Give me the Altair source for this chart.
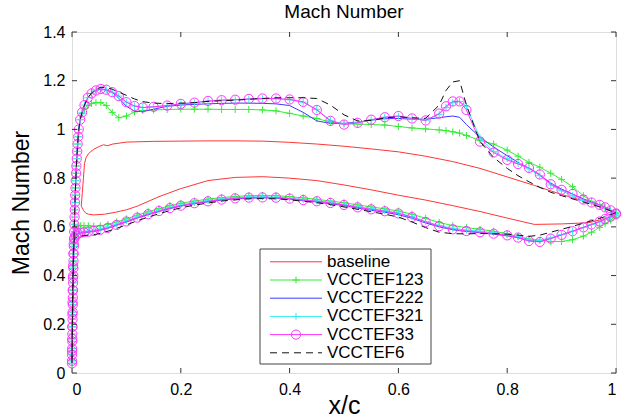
import altair as alt
import pandas as pd

# ---------------- data ----------------
SERIES = ["baseline", "VCCTEF123", "VCCTEF222", "VCCTEF321", "VCCTEF33", "VCCTEF6"]
COLORS = ["#ff3535", "#33ee33", "#3a3aff", "#33eef0", "#ff33ff", "#111111"]

X_TICKS = [0, 0.2, 0.4, 0.6, 0.8, 1]
Y_TICKS = [0, 0.2, 0.4, 0.6, 0.8, 1, 1.2, 1.4]

# leading-edge (stagnation) column, identical for all flap configurations
UPPER_LE_X = [0.0, 0.00015, 0.0003, 0.00045, 0.0006, 0.0008, 0.001, 0.0012, 0.0014, 0.0016,
              0.0018, 0.002, 0.0023, 0.0025, 0.0028, 0.0031, 0.0034, 0.0037, 0.004, 0.00435,
              0.0047, 0.0051, 0.0055, 0.0059, 0.0064, 0.0069, 0.0075, 0.0081, 0.0088, 0.0096,
              0.0104, 0.0114, 0.0125]
UPPER_LE_M = [0.05, 0.075, 0.10, 0.13, 0.16, 0.19, 0.22, 0.25, 0.28, 0.31,
              0.34, 0.37, 0.40, 0.43, 0.46, 0.49, 0.52, 0.55, 0.58, 0.61,
              0.64, 0.67, 0.70, 0.73, 0.76, 0.79, 0.82, 0.85, 0.88, 0.91,
              0.94, 0.97, 1.00]
LOWER_LE_X = [0.0, 0.0002, 0.0004, 0.0006, 0.0008, 0.001, 0.0013, 0.0016, 0.002, 0.0025, 0.0032]
LOWER_LE_M = [0.04, 0.09, 0.14, 0.19, 0.24, 0.29, 0.34, 0.39, 0.44, 0.49, 0.53]

# rest of each surface (leading edge -> trailing edge)
UPPER_X = [0.015, 0.0185, 0.023, 0.029, 0.036, 0.044, 0.053, 0.063, 0.074, 0.086,
           0.1, 0.115, 0.13, 0.15, 0.175, 0.2,
           0.225, 0.25, 0.275, 0.3, 0.325, 0.35, 0.375, 0.4, 0.425, 0.45,
           0.475, 0.5, 0.525, 0.55, 0.575, 0.6, 0.625, 0.65, 0.675, 0.6875,
           0.7, 0.7125, 0.725, 0.75, 0.775, 0.8,
           0.82, 0.84, 0.86, 0.88, 0.9, 0.92, 0.94, 0.955, 0.97, 0.98, 0.99, 1.0]
LOWER_X = [0.0045, 0.007, 0.011, 0.016, 0.022, 0.03, 0.04, 0.052, 0.066,
           0.082, 0.1, 0.12, 0.14, 0.16, 0.18, 0.2,
           0.225, 0.25, 0.275, 0.3, 0.325, 0.35, 0.375, 0.4, 0.425, 0.45, 0.475, 0.5,
           0.525, 0.55, 0.575, 0.6, 0.625, 0.65, 0.675, 0.7, 0.725, 0.75, 0.775, 0.8,
           0.82, 0.84, 0.86, 0.88, 0.9, 0.92, 0.94, 0.955, 0.97, 0.98, 0.99, 1.0]

# baseline (no markers) has its own points
BASE_UPPER_X = [0.017, 0.019, 0.021, 0.023, 0.026, 0.03, 0.035, 0.04, 0.05, 0.058,
                0.065, 0.075, 0.1, 0.15, 0.2, 0.25, 0.3, 0.35, 0.4, 0.45,
                0.5, 0.55, 0.6, 0.65, 0.7, 0.75, 0.8, 0.85, 0.9, 0.95, 1.0]
BASE_UPPER_M = [0.685, 0.74, 0.80, 0.86, 0.885, 0.9, 0.91, 0.918, 0.93, 0.937,
                0.933, 0.94, 0.948, 0.951, 0.952, 0.953, 0.953, 0.952, 0.947, 0.94,
                0.931, 0.92, 0.908, 0.89, 0.868, 0.84, 0.805, 0.77, 0.733, 0.70, 0.66]
BASE_LOWER_X = [0.017, 0.019, 0.021, 0.025, 0.03, 0.04, 0.06, 0.08, 0.1, 0.12,
                0.16, 0.2, 0.25, 0.3, 0.35, 0.4, 0.45, 0.5, 0.55, 0.6,
                0.65, 0.7, 0.75, 0.8, 0.85, 0.9, 0.95, 1.0]
BASE_LOWER_M = [0.685, 0.678, 0.668, 0.657, 0.652, 0.649, 0.652, 0.66, 0.67, 0.685,
                0.724, 0.757, 0.79, 0.803, 0.806, 0.80, 0.79, 0.772, 0.752, 0.73,
                0.71, 0.687, 0.663, 0.636, 0.61, 0.612, 0.617, 0.645]

V123_UPPER = [1.04, 1.065, 1.085, 1.098, 1.106, 1.11, 1.11, 1.098, 1.07, 1.048,
              1.055, 1.072, 1.078, 1.08, 1.082, 1.083,
              1.083, 1.083, 1.082, 1.082, 1.082, 1.08, 1.076, 1.066, 1.055, 1.045,
              1.03, 1.024, 1.022, 1.02, 1.018, 1.012, 1.006, 1.002, 0.998, 0.995,
              0.99, 0.985, 0.975, 0.955, 0.94, 0.915,
              0.89, 0.865, 0.845, 0.82, 0.795, 0.765, 0.728, 0.705, 0.69, 0.678, 0.668, 0.66]
V123_LOWER = [0.58, 0.598, 0.604, 0.605, 0.605, 0.604, 0.603, 0.604, 0.61,
              0.62, 0.633, 0.648, 0.662, 0.675, 0.687, 0.697,
              0.706, 0.714, 0.72, 0.725, 0.728, 0.729, 0.728, 0.724, 0.719, 0.713, 0.706, 0.699,
              0.69, 0.682, 0.674, 0.665, 0.652, 0.635, 0.618, 0.605, 0.597, 0.59, 0.582, 0.572,
              0.56, 0.55, 0.545, 0.54, 0.54, 0.547, 0.562, 0.578, 0.598, 0.613, 0.628, 0.645]

V222_UPPER = [1.04, 1.07, 1.10, 1.13, 1.148, 1.16, 1.166, 1.162, 1.152, 1.128,
              1.095, 1.075, 1.073, 1.083, 1.095, 1.10,
              1.103, 1.105, 1.107, 1.108, 1.108, 1.107, 1.105, 1.098, 1.07, 1.035,
              1.025, 1.025, 1.03, 1.038, 1.044, 1.045, 1.042, 1.042, 1.048, 1.052,
              1.055, 1.05, 1.02, 0.968, 0.928, 0.892,
              0.865, 0.84, 0.812, 0.78, 0.755, 0.735, 0.715, 0.702, 0.69, 0.68, 0.668, 0.655]
V222_LOWER = [0.555, 0.563, 0.57, 0.574, 0.576, 0.578, 0.581, 0.586, 0.594,
              0.606, 0.62, 0.636, 0.65, 0.663, 0.675, 0.685,
              0.695, 0.703, 0.71, 0.715, 0.718, 0.719, 0.718, 0.714, 0.708, 0.702, 0.695, 0.687,
              0.677, 0.668, 0.66, 0.65, 0.635, 0.616, 0.6, 0.588, 0.581, 0.576, 0.57, 0.563,
              0.555, 0.543, 0.54, 0.553, 0.567, 0.582, 0.597, 0.609, 0.621, 0.631, 0.641, 0.651]

V321_UPPER = [1.04, 1.07, 1.10, 1.13, 1.148, 1.16, 1.165, 1.162, 1.153, 1.137,
              1.112, 1.096, 1.09, 1.093, 1.098, 1.105,
              1.11, 1.116, 1.12, 1.122, 1.124, 1.126, 1.126, 1.122, 1.112, 1.082,
              1.037, 1.022, 1.028, 1.04, 1.05, 1.054, 1.045, 1.038, 1.062, 1.09,
              1.11, 1.115, 1.095, 0.965, 0.91, 0.88,
              0.86, 0.838, 0.81, 0.772, 0.748, 0.728, 0.708, 0.698, 0.688, 0.678, 0.667, 0.655]
V321_LOWER = [0.555, 0.567, 0.574, 0.578, 0.58, 0.583, 0.586, 0.591, 0.6,
              0.612, 0.626, 0.641, 0.655, 0.668, 0.68, 0.69,
              0.7, 0.708, 0.715, 0.72, 0.723, 0.724, 0.722, 0.718, 0.712, 0.707, 0.7, 0.692,
              0.683, 0.675, 0.667, 0.657, 0.642, 0.622, 0.606, 0.594, 0.587, 0.582, 0.576, 0.568,
              0.56, 0.548, 0.545, 0.555, 0.568, 0.582, 0.597, 0.609, 0.62, 0.63, 0.64, 0.65]

V33_UPPER = [1.04, 1.07, 1.10, 1.13, 1.148, 1.16, 1.166, 1.163, 1.153, 1.137,
             1.112, 1.096, 1.09, 1.093, 1.098, 1.105,
             1.11, 1.117, 1.12, 1.122, 1.125, 1.127, 1.127, 1.123, 1.113, 1.08,
             1.035, 1.02, 1.027, 1.04, 1.05, 1.055, 1.045, 1.037, 1.065, 1.095,
             1.115, 1.115, 1.08, 0.95, 0.905, 0.875,
             0.858, 0.842, 0.815, 0.775, 0.752, 0.735, 0.712, 0.70, 0.69, 0.68, 0.668, 0.655]
V33_LOWER = [0.555, 0.565, 0.572, 0.576, 0.578, 0.58, 0.583, 0.588, 0.596,
             0.608, 0.622, 0.638, 0.652, 0.665, 0.677, 0.687,
             0.697, 0.705, 0.712, 0.717, 0.72, 0.721, 0.72, 0.716, 0.71, 0.705, 0.698, 0.69,
             0.68, 0.672, 0.664, 0.655, 0.64, 0.62, 0.603, 0.59, 0.583, 0.578, 0.572, 0.565,
             0.556, 0.542, 0.538, 0.552, 0.567, 0.582, 0.598, 0.61, 0.622, 0.632, 0.642, 0.652]

V6_UPPER = [1.04, 1.07, 1.10, 1.13, 1.15, 1.165, 1.173, 1.172, 1.165, 1.153,
            1.14, 1.125, 1.114, 1.108, 1.106, 1.108,
            1.11, 1.115, 1.118, 1.12, 1.124, 1.127, 1.13, 1.13, 1.13, 1.127,
            1.10, 1.06, 1.035, 1.037, 1.047, 1.052, 1.048, 1.045, 1.10, 1.16,
            1.195, 1.20, 1.10, 0.95, 0.885, 0.84,
            0.81, 0.785, 0.762, 0.742, 0.728, 0.715, 0.702, 0.692, 0.682, 0.674, 0.666, 0.658]
V6_LOWER = [0.55, 0.556, 0.56, 0.562, 0.564, 0.566, 0.568, 0.573, 0.582,
            0.594, 0.608, 0.625, 0.64, 0.654, 0.667, 0.678,
            0.689, 0.698, 0.706, 0.711, 0.715, 0.716, 0.715, 0.711, 0.705, 0.699, 0.691, 0.682,
            0.672, 0.662, 0.652, 0.64, 0.62, 0.597, 0.578, 0.572, 0.571, 0.573, 0.572, 0.57,
            0.566, 0.561, 0.566, 0.578, 0.59, 0.602, 0.615, 0.625, 0.635, 0.642, 0.65, 0.658]


# ---------------- build long table: lower surface TE->LE then upper LE->TE ----------------
def surface_path(name, lx, lm, ux, um):
    rows = []
    k = 0
    for x, m in zip(reversed(lx), reversed(lm)):
        rows.append({"series": name, "x": x, "M": m, "o": k}); k += 1
    for x, m in zip(ux, um):
        rows.append({"series": name, "x": x, "M": m, "o": k}); k += 1
    return pd.DataFrame(rows)


def flap(name, up, lo):
    return surface_path(name, LOWER_LE_X + LOWER_X, LOWER_LE_M + lo,
                        UPPER_LE_X + UPPER_X, UPPER_LE_M + up)


frames = {
    "baseline": surface_path("baseline", BASE_LOWER_X, BASE_LOWER_M, BASE_UPPER_X, BASE_UPPER_M),
    "VCCTEF123": flap("VCCTEF123", V123_UPPER, V123_LOWER),
    "VCCTEF222": flap("VCCTEF222", V222_UPPER, V222_LOWER),
    "VCCTEF321": flap("VCCTEF321", V321_UPPER, V321_LOWER),
    "VCCTEF33": flap("VCCTEF33", V33_UPPER, V33_LOWER),
    "VCCTEF6": flap("VCCTEF6", V6_UPPER, V6_LOWER),
}
col = dict(zip(SERIES, COLORS))

W, H = 544, 341
FONT = "Liberation Sans"
PLUS = "M-1,0L1,0M0,-1L0,1"

xs = alt.Scale(domain=[0, 1], nice=False, zero=False)
ys = alt.Scale(domain=[0, 1.4], nice=False, zero=False)
xaxis = alt.Axis(values=X_TICKS, format="~g", ticks=False, tickSize=0, domain=False, grid=False,
                 labelFont=FONT, labelFontSize=16, labelColor="#000", labelPadding=8,
                 titleFont=FONT, titleFontSize=25, titleFontWeight="normal", titleColor="#000",
                 titleX=W / 2, titleY=40, titleBaseline="alphabetic", titleAlign="center")
yaxis = alt.Axis(values=Y_TICKS, format="~g", ticks=False, tickSize=0, domain=False, grid=False,
                 labelFont=FONT, labelFontSize=16, labelColor="#000", labelPadding=7,
                 titleFont=FONT, titleFontSize=23, titleFontWeight="normal", titleColor="#000",
                 titleX=-44, titleY=H / 2, titleBaseline="alphabetic", titleAlign="center")
X = alt.X("x:Q", scale=xs, axis=xaxis, title="x/c")
Y = alt.Y("M:Q", scale=ys, axis=yaxis, title="Mach Number")

MS_PLUS = 49
MS_CIRC = 85

layers = []
for name in SERIES:
    d = frames[name]
    if name == "VCCTEF6":
        ln = alt.Chart(d).mark_line(color=col[name], strokeWidth=1, strokeDash=[7, 5], clip=False)
    else:
        ln = alt.Chart(d).mark_line(color=col[name], strokeWidth=1, clip=False)
    layers.append(ln.encode(x=X, y=Y, order="o:Q"))
    if name in ("VCCTEF123", "VCCTEF321"):
        layers.append(alt.Chart(d).mark_point(shape=PLUS, size=MS_PLUS, strokeWidth=1, color=col[name],
                                              filled=False, opacity=1, clip=False)
                      .encode(x=X, y=Y))
    if name == "VCCTEF33":
        layers.append(alt.Chart(d).mark_point(shape="circle", size=MS_CIRC, strokeWidth=1, color=col[name],
                                              filled=False, opacity=1, clip=False)
                      .encode(x=X, y=Y))

# inward ticks on all four sides (MATLAB style)
xt = pd.DataFrame({"x": X_TICKS})
yt = pd.DataFrame({"M": Y_TICKS})
TK = "#333333"
layers.append(alt.Chart(xt).mark_rule(color=TK, strokeWidth=1).encode(x=X, y=alt.value(0), y2=alt.value(5)))
layers.append(alt.Chart(xt).mark_rule(color=TK, strokeWidth=1).encode(x=X, y=alt.value(H - 5), y2=alt.value(H)))
layers.append(alt.Chart(yt).mark_rule(color=TK, strokeWidth=1).encode(y=Y, x=alt.value(0), x2=alt.value(5)))
layers.append(alt.Chart(yt).mark_rule(color=TK, strokeWidth=1).encode(y=Y, x=alt.value(W - 5), x2=alt.value(W)))

# legend box (drawn by hand to show line + marker samples)
LX0, LX1, LY0, LY1 = 188, 359, 217, 332
leg = pd.DataFrame({"name": SERIES, "color": COLORS})
leg["ly"] = [229.8 + 18.2 * i for i in range(len(SERIES))]
layers.append(alt.Chart(pd.DataFrame({"a": [0]})).mark_rect(fill="white", stroke="#444", strokeWidth=1)
              .encode(x=alt.value(LX0), x2=alt.value(LX1), y=alt.value(LY0), y2=alt.value(LY1)))
for name in SERIES:
    dl = leg[leg["name"] == name]
    rule = alt.Chart(dl).mark_rule(color=col[name], strokeWidth=1,
                                   **({"strokeDash": [7, 5]} if name == "VCCTEF6" else {}))
    layers.append(rule.encode(x=alt.value(198), x2=alt.value(250), y=alt.Y("ly:Q", scale=None)))
    if name in ("VCCTEF123", "VCCTEF321"):
        layers.append(alt.Chart(dl).mark_point(shape=PLUS, size=MS_PLUS, strokeWidth=1, color=col[name],
                                               filled=False, opacity=1)
                      .encode(x=alt.value(224), y=alt.Y("ly:Q", scale=None)))
    if name == "VCCTEF33":
        layers.append(alt.Chart(dl).mark_point(shape="circle", size=MS_CIRC, strokeWidth=1, color=col[name],
                                               filled=False, opacity=1)
                      .encode(x=alt.value(224), y=alt.Y("ly:Q", scale=None)))
layers.append(alt.Chart(leg).mark_text(align="left", baseline="middle", font=FONT, fontSize=17, color="#000")
              .encode(x=alt.value(255), y=alt.Y("ly:Q", scale=None), text="name:N"))

chart = alt.layer(*layers).properties(
    width=W, height=H,
    title=alt.TitleParams("Mach Number", font=FONT, fontSize=19, fontWeight="normal", color="#000",
                          anchor="middle", offset=2),
    autosize=alt.AutoSizeParams(type="none"),
    padding={"left": 72, "top": 32, "right": 5, "bottom": 46},
).configure_view(stroke="#333333", strokeWidth=1).configure(background="white")

chart.save("out.html", embed_options={"renderer": "svg", "actions": False})
